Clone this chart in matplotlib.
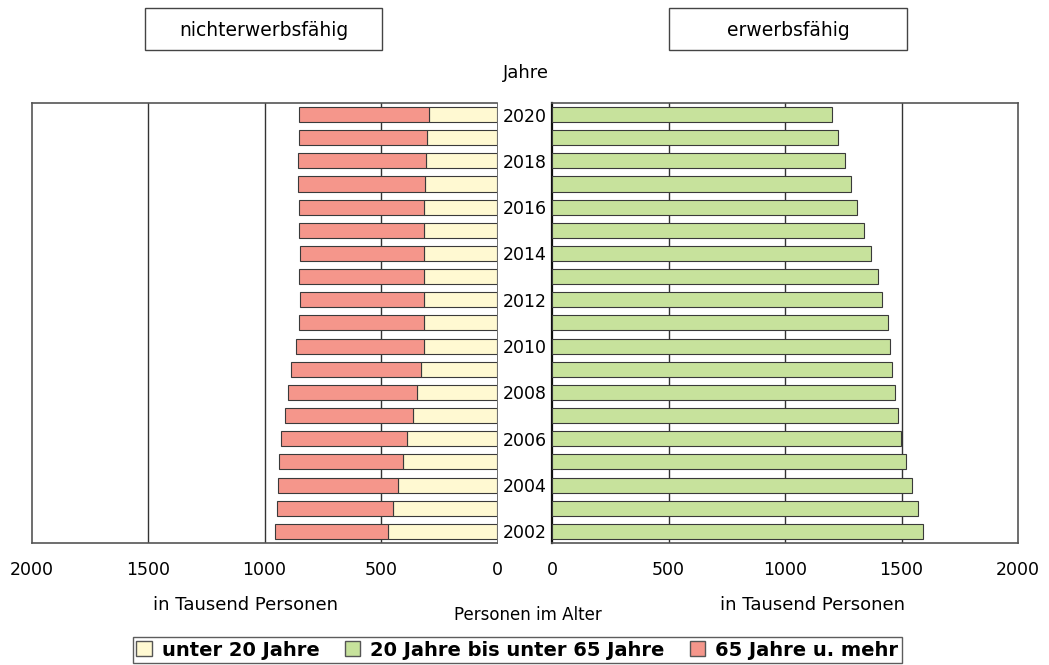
import numpy as np
import matplotlib
matplotlib.use("Agg")
import matplotlib.pyplot as plt
from matplotlib.patches import Patch, Rectangle

plt.rcParams['font.family'] = ['DejaVu Sans']

years = list(range(2002, 2021))
# in Tausend Personen, 2002 .. 2020
unter20 = [469, 447, 428, 404, 387, 363, 346, 329, 316, 313,
           312, 313, 313, 313, 313, 309, 305, 299, 292]
total_nicht = [954, 947, 941, 937, 930, 914, 898, 887, 866, 852,
               849, 850, 849, 853, 853, 856, 856, 853, 852]
ab65 = [t - u for t, u in zip(total_nicht, unter20)]
erwerb = [1593, 1571, 1544, 1520, 1498, 1484, 1470, 1457, 1451, 1440,
          1417, 1397, 1369, 1339, 1311, 1284, 1256, 1228, 1203]

c_yellow = '#FFF9D2'
c_green = '#C7E29C'
c_red = '#F5968B'
edge = '#3a3a3a'

fig = plt.figure(figsize=(10.49, 6.65), dpi=100)
axL = fig.add_axes([0.0305, 0.1835, 0.4433, 0.6617])
axR = fig.add_axes([0.5262, 0.1835, 0.4443, 0.6617])

h = 0.65
axL.barh(years, unter20, height=h, color=c_yellow, edgecolor=edge, linewidth=0.8, zorder=3)
axL.barh(years, ab65, left=unter20, height=h, color=c_red, edgecolor=edge, linewidth=0.8, zorder=3)
axR.barh(years, erwerb, height=h, color=c_green, edgecolor=edge, linewidth=0.8, zorder=3)

for ax in (axL, axR):
    ax.set_ylim(2001.5, 2020.5)
    ax.set_xticks([0, 500, 1000, 1500, 2000])
    ax.tick_params(axis='x', length=0, pad=13, labelsize=12.5)
    for xv in (500, 1000, 1500):
        ax.axvline(xv, color='#333333', linewidth=1.0, zorder=1)
    for s in ax.spines.values():
        s.set_color('#555555')
        s.set_linewidth(1.2)

axL.set_xlim(2000, 0)
axR.set_xlim(0, 2000)
axL.set_yticks([])
axR.spines['left'].set_color('#111111')
axR.spines['left'].set_linewidth(1.6)
axL.spines['right'].set_linewidth(0.6)

axR.set_yticks(years[::2])
axR.set_yticklabels([str(y) for y in years[::2]], ha='center', fontsize=12.5)
axR.tick_params(axis='y', length=0, pad=19.5)

# headings with boxes
for (x0, x1, label) in [(145, 382, 'nichterwerbsfähig'), (669, 907, 'erwerbsfähig')]:
    fig.add_artist(Rectangle((x0 / 1049, 1 - 50 / 665), (x1 - x0) / 1049, 42 / 665,
                             transform=fig.transFigure, facecolor='white',
                             edgecolor='#444444', linewidth=1.0))
    fig.text((x0 + x1) / 2 / 1049, 1 - 30 / 665, label, ha='center', va='center', fontsize=13.5)

fig.text(0.501, 0.890, 'Jahre', ha='center', va='center', fontsize=13)
fig.text(0.234, 0.090, 'in Tausend Personen', ha='center', va='center', fontsize=13)
fig.text(0.775, 0.090, 'in Tausend Personen', ha='center', va='center', fontsize=13)
fig.text(0.503, 0.075, 'Personen im Alter', ha='center', va='center', fontsize=12)

handles = [Patch(facecolor=c_yellow, edgecolor='#555555', label='unter 20 Jahre'),
           Patch(facecolor=c_green, edgecolor='#555555', label='20 Jahre bis unter 65 Jahre'),
           Patch(facecolor=c_red, edgecolor='#555555', label='65 Jahre u. mehr')]
leg = fig.legend(handles=handles, loc='center', bbox_to_anchor=(0.493, 0.0225), ncol=3,
                 frameon=True, fancybox=False, edgecolor='#333333',
                 handlelength=0.8, handleheight=0.8, handletextpad=0.5, columnspacing=1.3,
                 borderpad=0.2, borderaxespad=0.2, prop={'weight': 'bold', 'size': 14})
leg.get_frame().set_linewidth(1.0)

fig.savefig('out.png', dpi=100)
